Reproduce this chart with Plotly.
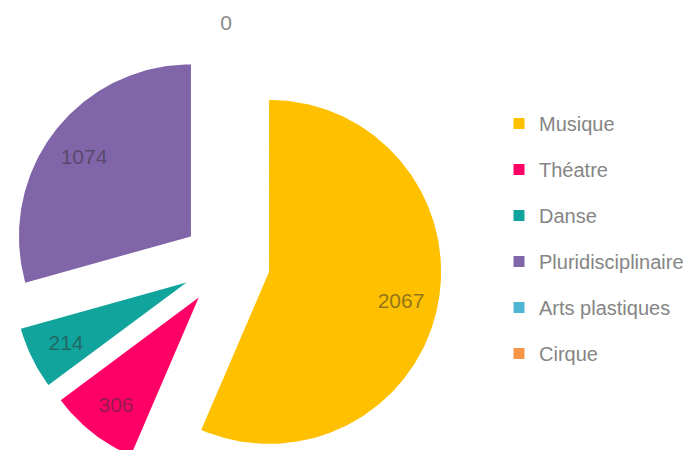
import math
import plotly.graph_objects as go

# Répartition par discipline
categories = ["Musique", "Théatre", "Danse", "Pluridisciplinaire", "Arts plastiques", "Cirque"]
values = [2067, 306, 214, 1074, 0, 0]
colors = ["#FFC000", "#FF0066", "#10A49C", "#8165A9", "#4FB6D3", "#F79646"]

W, H = 689, 450
FONT = "Liberation Sans"

# Pie geometry in pixel units (exploded slices, clockwise from 12 o'clock)
CX, CY = 226, 263
R = 172
PULL = 44
LABEL_IN = 0.78
LABEL_OUT = 1.13

fig = go.Figure()

total = sum(values)
cum = 0.0
label_pos = {}
for cat, v, col in zip(categories, values, colors):
    a0 = 360.0 * cum / total
    a1 = 360.0 * (cum + v) / total
    cum += v
    mid = math.radians((a0 + a1) / 2)
    ox, oy = PULL * math.sin(mid), -PULL * math.cos(mid)
    ax, ay = CX + ox, CY + oy
    if v > 0:
        n = max(8, int((a1 - a0) / 1.0))
        xs, ys = [ax], [ay]
        for k in range(n + 1):
            t = math.radians(a0 + (a1 - a0) * k / n)
            xs.append(ax + R * math.sin(t))
            ys.append(ay - R * math.cos(t))
        xs.append(ax)
        ys.append(ay)
        fig.add_trace(go.Scatter(
            x=xs, y=ys, mode="lines", fill="toself", fillcolor=col,
            line=dict(width=0), name=cat, showlegend=False,
            hoverinfo="text", text=f"{cat}: {v}",
        ))
        rr = R * LABEL_IN
        key = (round(ax + rr * math.sin(mid)), round(ay - rr * math.cos(mid) + 4))
        label_pos.setdefault(key, (str(v), "rgba(50,50,50,0.55)"))
    else:
        rr = PULL + R * LABEL_OUT
        key = (round(CX + rr * math.sin(mid)), round(CY - rr * math.cos(mid)))
        label_pos.setdefault(key, (str(v), "#8a8a8a"))

for (lx, ly), (txt, tcol) in label_pos.items():
    fig.add_trace(go.Scatter(
        x=[lx], y=[ly], mode="text", text=[txt], textposition="middle center",
        textfont=dict(family=FONT, size=21, color=tcol),
        showlegend=False, hoverinfo="skip",
    ))

# Legend entries (square swatches)
for cat, col in zip(categories, colors):
    fig.add_trace(go.Scatter(
        x=[None], y=[None], mode="markers", name=cat, legendgroup=cat,
        marker=dict(symbol="square", size=11, color=col),
    ))

fig.update_layout(
    width=W, height=H,
    margin=dict(l=0, r=0, t=0, b=0),
    paper_bgcolor="white", plot_bgcolor="white",
    xaxis=dict(range=[0, W], visible=False, fixedrange=True),
    yaxis=dict(range=[H, 0], visible=False, fixedrange=True),
    legend=dict(
        x=499 / W, y=1 - 104 / H, xanchor="left", yanchor="top",
        font=dict(family=FONT, size=20, color="#858585"),
        tracegroupgap=17, bgcolor="rgba(0,0,0,0)",
    ),
)

fig.write_html("out.html")
